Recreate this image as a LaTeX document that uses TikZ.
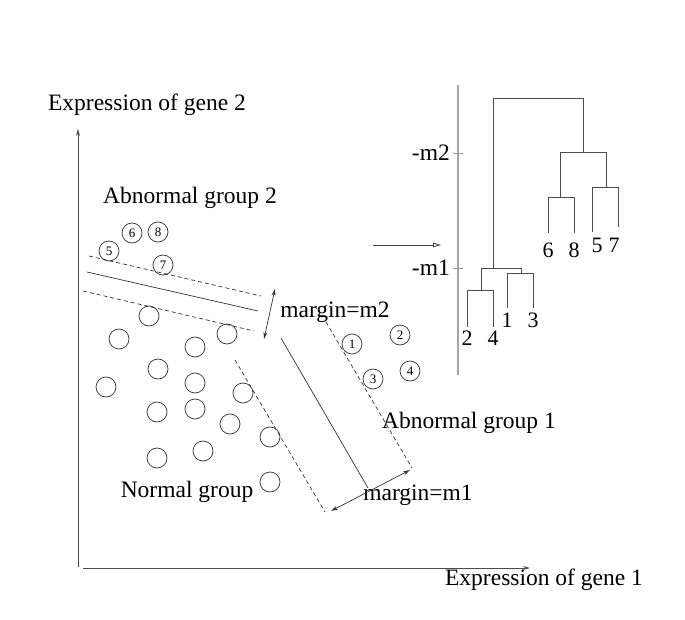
\documentclass[tikz,border=0pt]{standalone}
\usepackage{fontspec}
\setmainfont{Liberation Serif}
\usetikzlibrary{arrows.meta}
\begin{document}
\begin{tikzpicture}[x=1pt,y=-1pt,
  lbl/.style={font=\fontsize{23.5}{26}\selectfont, inner sep=0pt},
  dlbl/.style={font=\fontsize{22}{24}\selectfont, inner sep=0pt},
  pt/.style={circle, draw=black!80, line width=0.7pt, minimum size=20pt, inner sep=0pt, font=\fontsize{13}{14}\selectfont},
  ln/.style={draw=black!80, line width=0.7pt},
  dsh/.style={draw=black!80, line width=0.7pt, dash pattern=on 4pt off 3pt},
  axis/.style={draw=black!70, line width=0.9pt, -{Stealth[length=7pt,width=4pt]}},
  dbl/.style={draw=black!80, line width=0.7pt, {Stealth[length=7pt,width=4pt]}-{Stealth[length=7pt,width=4pt]}},
  tree/.style={draw=black!70, line width=0.8pt},
]
\useasboundingbox (0,0) rectangle (685,620);
\fill[white] (0,0) rectangle (685,620);

% axes
\coordinate (yb) at (78,567);
\coordinate (yt) at (78,129);
\coordinate (xb) at (83,568);
\coordinate (xt) at (530,568);
\draw[axis] (yb) -- (yt);
\draw[axis] (xb) -- (xt);
\node[lbl] (ylab) at (147,105) {Expression of gene 2};
\node[lbl] (xlab) at (544,580) {Expression of gene 1};

% group labels
\node[lbl] (ab2) at (190,198) {Abnormal group 2};
\node[lbl] (ab1) at (469,423) {Abnormal group 1};
\node[lbl] (norm) at (187,492) {Normal group};
\node[lbl] (mm2) at (335,312) {margin=m2};
\node[lbl] (mm1) at (418,495) {margin=m1};

% abnormal group 2 points
\node[pt] (p5) at (109,251) {5};
\node[pt] (p6) at (132,233) {6};
\node[pt] (p8) at (158,232) {8};
\node[pt] (p7) at (163,265) {7};

% abnormal group 1 points
\node[pt] (p1) at (352,344) {1};
\node[pt] (p2) at (400,335) {2};
\node[pt] (p3) at (373,379) {3};
\node[pt] (p4) at (410,371) {4};

% normal group points
\foreach \n/\x/\y in {a/149/316, b/119/339, c/195/347, d/227/334, e/158/369, f/106/387,
  g/195/383, h/243/393, i/157/412, j/195/409, k/230/424, l/270/437, m/157/458,
  n/203/451, o/270/482} {
  \node[pt] (q\n) at (\x,\y) {};
}

% separating lines group 2
\coordinate (u1) at (89,256); \coordinate (u2) at (261,296);
\coordinate (s1) at (87,272); \coordinate (s2) at (258,311);
\coordinate (w1) at (83,291); \coordinate (w2) at (254,331);
\draw[dsh] (u1) -- (u2);
\draw[ln] (s1) -- (s2);
\draw[dsh] (w1) -- (w2);
\coordinate (a2a) at (275,289); \coordinate (a2b) at (264,339);
\draw[dbl] (a2a) -- (a2b);

% separating lines group 1
\coordinate (v1) at (235,360); \coordinate (v2) at (325,512);
\coordinate (t1) at (281,338); \coordinate (t2) at (368,488);
\coordinate (r1) at (326,322); \coordinate (r2) at (412,468);
\draw[dsh] (v1) -- (v2);
\draw[ln] (t1) -- (t2);
\draw[dsh] (r1) -- (r2);
\coordinate (a1a) at (410,470); \coordinate (a1b) at (331,511);
\draw[dbl] (a1a) -- (a1b);

% middle arrow
\coordinate (ma) at (373,245); \coordinate (mb) at (441,245);
\draw[draw=black!75, line width=0.8pt, -{Triangle[open,length=8pt,width=4.5pt]}] (ma) -- (mb);

% dendrogram axis
\coordinate (dt) at (458,85); \coordinate (db) at (458,375);
\draw[draw=black!35, line width=1.6pt] (dt) -- (db);
\coordinate (tk2a) at (453,153); \coordinate (tk2b) at (463,153);
\coordinate (tk1a) at (453,268); \coordinate (tk1b) at (463,268);
\draw[draw=black!40, line width=0.8pt] (tk2a) -- (tk2b);
\draw[draw=black!40, line width=0.8pt] (tk1a) -- (tk1b);
\node[lbl, anchor=east] (lm2) at (450,153) {-m2};
\node[lbl, anchor=east] (lm1) at (450,268) {-m1};

% dendrogram
\draw[tree] (493,268) -- (493,98) -- (583,98) -- (583,152);
\draw[tree] (560,197) -- (560,152) -- (606,152) -- (606,187);
\draw[tree] (548,233) -- (548,197) -- (574,197) -- (574,233);
\draw[tree] (592,232) -- (592,187) -- (618,187) -- (618,227);
\draw[tree] (481,290) -- (481,268) -- (521,268) -- (521,273);
\draw[tree] (467,327) -- (467,290) -- (493,290) -- (493,327);
\draw[tree] (507,308) -- (507,273) -- (533,273) -- (533,308);

\node[dlbl] (l6) at (548,250) {6};
\node[dlbl] (l8) at (574,250) {8};
\node[dlbl] (l5) at (597,245) {5};
\node[dlbl] (l7) at (614,245) {7};
\node[dlbl] (l2) at (467,338) {2};
\node[dlbl] (l4) at (493,338) {4};
\node[dlbl] (l1) at (507,320) {1};
\node[dlbl] (l3) at (533,320) {3};
\end{tikzpicture}
\end{document}
